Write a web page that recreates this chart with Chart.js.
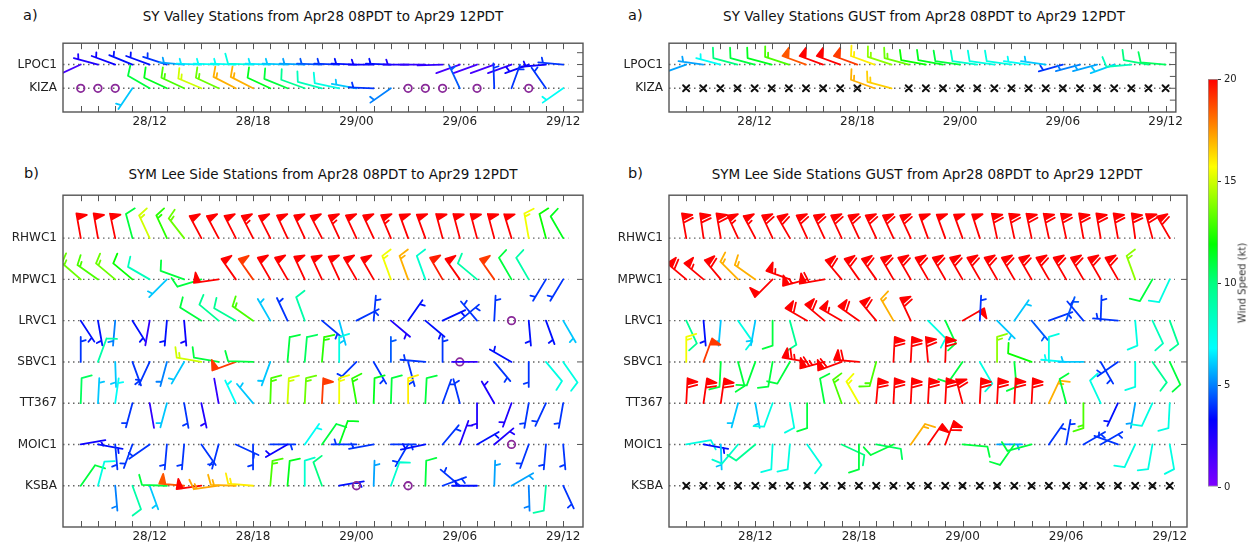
<!DOCTYPE html>
<html>
<head>
<meta charset="utf-8">
<script src="https://cdn.jsdelivr.net/npm/chart.js@4.4.1/dist/chart.umd.min.js"></script>
<style>
  body { margin: 0; background: #fff; width: 1255px; height: 544px; overflow: hidden; position: relative;
         font-family: 'DejaVu Sans', sans-serif; color: #111; }
  .box { position: absolute; }
  .ttl { position: absolute; font-size: 13.5px; white-space: nowrap; transform: translateX(-50%); }
  .tag { position: absolute; font-size: 14.5px; }
  .cbt { position: absolute; font-size: 10px; color: #333; white-space: nowrap; transform: translate(-50%, -50%) rotate(-90deg); }
</style>
</head>
<body>
<div class="tag" style="left:23px;top:7px">a)</div>
<div class="ttl" style="left:323px;top:8px">SY Valley Stations from Apr28 08PDT to Apr29 12PDT</div>
<div class="tag" style="left:628px;top:7px">a)</div>
<div class="ttl" style="left:924px;top:8px">SY Valley Stations GUST from Apr28 08PDT to Apr29 12PDT</div>
<div class="tag" style="left:24px;top:165px">b)</div>
<div class="ttl" style="left:323px;top:166px">SYM Lee Side Stations from Apr28 08PDT to Apr29 12PDT</div>
<div class="tag" style="left:628px;top:165px">b)</div>
<div class="ttl" style="left:927px;top:166px">SYM Lee Side Stations GUST from Apr28 08PDT to Apr29 12PDT</div>

<div class="box" style="left:0;top:30px;width:590px;height:102px"><canvas id="c-valley"></canvas></div>
<div class="box" style="left:605.5px;top:30px;width:580px;height:102px"><canvas id="c-valley-gust"></canvas></div>
<div class="box" style="left:0;top:182px;width:590px;height:365px"><canvas id="c-lee"></canvas></div>
<div class="box" style="left:605.5px;top:182px;width:587px;height:365px"><canvas id="c-lee-gust"></canvas></div>
<div class="box" style="left:1190px;top:70px;width:65px;height:430px"><canvas id="c-bar"></canvas></div>
<div class="cbt" style="left:1242px;top:283px">Wind Speed (kt)</div>

<script>
'use strict';

// ── Tiempo: horas desde Apr28 08PDT ───────────────────────────────────
const hours = [0, 1, 2, 3, 4, 5, 6, 7, 8, 9, 10, 11, 12, 13, 14, 15, 16, 17, 18, 19, 20, 21, 22, 23, 24, 25, 26, 27, 28];
const tickHours  = [4, 10, 16, 22, 28];
const tickLabels = ['28/12', '28/18', '29/00', '29/06', '29/12'];

const valleyStations = ['LPOC1', 'KIZA'];
const leeStations    = ['RHWC1', 'MPWC1', 'LRVC1', 'SBVC1', 'TT367', 'MOIC1', 'KSBA'];

// ── Viento medio (kt, direccion de procedencia en grados) ─────────────
const lpoc1Spd = [1.5, 2.5, 3, 3.5, 3.5, 4, 5.5, 6.5, 7, 7, 7.5, 6.5, 6, 5.5, 4.5, 4, 3.5, 3, 3.5, 2.5, 2, 2, 1.5, 1.5, 1.5, 2, 3, 3, 4];
const lpoc1Dir = [245, 285, 290, 292, 290, 288, 275, 272, 272, 272, 272, 272, 272, 272, 272, 272, 272, 270, 272, 270, 270, 268, 250, 250, 250, 250, 250, 265, 275];
const kizaSpd  = [0, 0, 0, 6, 11, 11.5, 13, 15, 13.5, 17, 17, 11.5, 11, 9.5, 8.5, 7.5, 6, 4, 5, 0, 0, 0, 4.5, 0, 4, 4, 0, 4, 7];
const kizaDir  = [0, 0, 0, 214, 300, 295, 295, 293, 295, 297, 297, 295, 292, 290, 285, 282, 280, 272, 235, 0, 0, 0, 335, 0, 358, 20, 0, 325, 235];

const rhwc1Spd = [22, 22, 22, 11, 15, 12.5, 13.5, 22, 22, 22, 23, 22, 22, 22, 22, 23, 22, 22, 23, 22, 22, 22, 22, 22, 22, 22, 15.5, 12, 11.5];
const rhwc1Dir = [350, 350, 348, 345, 335, 335, 322, 332, 332, 333, 333, 333, 335, 335, 333, 335, 335, 335, 337, 340, 340, 345, 345, 345, 345, 343, 350, 345, 330];
const mpwc1Spd = [13.5, 13, 13.5, 12, 8.5, 6, 11, 11, 21, 22, 19, 22, 22, 22, 22, 22, 22, 22, 15.5, 17, 8, 19.5, 22, 9, 19, 11, 9, 4, 4];
const mpwc1Dir = [311, 305, 310, 310, 300, 225, 290, 253, 262, 325, 325, 330, 330, 335, 335, 335, 330, 330, 340, 340, 340, 330, 325, 310, 325, 330, 330, 211, 211];
const lrvc1Spd = [3.5, 3.5, 5, 3.5, 2, 3.5, 3, 11, 9.5, 9.5, 13, 6, 4, 9, 4, 6, 4, 4, 2.5, 3.5, 3.5, 3.5, 4, 4, 4, 0, 3.5, 3.5, 6];
const lrvc1Dir = [147, 170, 185, 148, 190, 185, 175, 302, 310, 300, 305, 330, 335, 340, 130, 165, 63, 5, 130, 35, 130, 65, 50, 320, 3, 0, 175, 160, 150];
const sbvc1Spd = [4, 9, 6, 4, 4, 5, 6, 15, 11, 19, 11, 6, 11, 10.5, 12.5, 7.5, 4, 4, 4.5, 4, 4, 4, 0, 2, 4, 3.5, 4, 7.5, 7.5];
const sbvc1Dir = [0, 20, 178, 160, 205, 195, 210, 280, 280, 250, 272, 200, 5, 5, 5, 0, 225, 150, 0, 165, 275, 0, 0, 270, 140, 300, 180, 140, 145];
const tt367Spd = [10.5, 6, 7, 4, 2, 6, 4, 2.5, 2, 7, 6, 13, 15, 13.5, 19, 15.5, 12.5, 11.5, 11, 16, 11, 4, 4, 2.5, 2.5, 2.5, 4, 4, 4];
const tt367Dir = [2, 3, 8, 195, 170, 195, 170, 168, 350, 335, 320, 2, 3, 3, 3, 0, 350, 2, 2, 0, 3, 20, 345, 180, 330, 200, 190, 205, 190];
const moic1Spd = [3, 3.5, 4, 4, 4, 4, 4, 4, 4, 4, 4, 4, 3, 7, 11, 11.5, 4, 4, 4, 4, 3.5, 4, 2.5, 3.5, 2.5, 0, 4, 4, 4];
const moic1Dir = [80, 100, 175, 200, 235, 185, 185, 145, 195, 115, 180, 90, 240, 35, 35, 20, 270, 260, 90, 210, 258, 40, 20, 60, 50, 0, 200, 185, 175];
const ksbaSpd  = [11, 7.5, 5, 9, 6, 11, 18.5, 21, 17.2, 17, 16, 13, 11.5, 8, 10, 3.5, 0, 5.5, 8, 0, 11, 4, 4, 3.5, 5.5, 5.5, 5, 9, 4];
const ksbaDir  = [35, 15, 175, 160, 160, 272, 275, 262, 262, 272, 275, 5, 5, 0, 340, 80, 0, 2, 20, 0, 2, 70, 310, 270, 2, 60, 178, 185, 155];

// ── Rachas ('x' = sin dato de racha) ──────────────────────────────────
const X = 'x';
const lpoc1GustSpd = [5.5, 5.5, 7, 10, 11, 11.5, 13, 18.5, 20, 20.5, 19, 16, 14, 13.5, 12, 11.5, 11, 8, 7.5, 7.5, 7, 6, 4, 5, 5.5, 6, 8.5, 10, 10.5];
const lpoc1GustDir = [250, 278, 285, 285, 285, 285, 288, 290, 290, 290, 290, 290, 288, 285, 280, 280, 278, 278, 278, 278, 278, 278, 254, 255, 255, 250, 265, 280, 275];
const kizaGustSpd  = [X, X, X, X, X, X, X, X, X, X, X, 17, 16.5, X, X, X, X, X, X, X, X, X, X, X, X, X, X, X, X];
const kizaGustDir  = [0, 0, 0, 0, 0, 0, 0, 0, 0, 0, 0, 290, 285, 0, 0, 0, 0, 0, 0, 0, 0, 0, 0, 0, 0, 0, 0, 0, 0];

const rhwc1GustSpd = [30, 30, 30, 27, 27, 30, 29, 30, 30, 30, 30, 30, 30, 30, 21, 21, 21, 21, 30, 30, 30, 30, 30, 30, 30, 29, 30, 29, 29];
const rhwc1GustDir = [350, 352, 350, 335, 332, 335, 330, 335, 335, 335, 335, 335, 335, 335, 340, 340, 340, 342, 348, 348, 348, 348, 348, 350, 350, 350, 352, 345, 330];
const mpwc1GustSpd = [27.5, 26, 27.5, 17, 17, 21, 26, 26, 27.5, 29, 29, 29, 29, 29, 29, 29, 29, 29, 29, 29, 29, 29, 29, 29, 29, 28, 14, 11, 7.5];
const mpwc1GustDir = [310, 310, 320, 315, 305, 225, 290, 255, 260, 320, 325, 325, 330, 330, 330, 330, 330, 330, 330, 330, 330, 330, 330, 330, 330, 330, 340, 210, 205];
const lrvc1GustSpd = [9.5, 3.5, 6, 7.5, 6, 11, 9.5, 28, 28, 26, 28, 28, 17, 28, 7.5, 11, 21, 4, 6, 6, 4.5, 4, 4.5, 4, 4, 4, 7.5, 8.5, 9.5];
const lrvc1GustDir = [155, 175, 185, 145, 190, 180, 165, 300, 310, 300, 305, 320, 330, 335, 135, 155, 60, 3, 135, 35, 140, 70, 20, 320, 2, 275, 175, 155, 160];
const sbvc1GustSpd = [15.5, 19, 11, 11, 11, 11, 11, 33, 33, 30, 30, 13, 28, 28, 28, 30, 11, 7.5, 14, 11, 12, 7.5, 7, 6, 4, 4, 7.5, 9.5, 11];
const sbvc1GustDir = [0, 20, 183, 165, 200, 190, 210, 280, 255, 250, 275, 195, 3, 3, 355, 2, 215, 150, 0, 175, 290, 0, 275, 270, 150, 235, 180, 145, 155];
const tt367GustSpd = [28, 28, 28, 6, 6, 7.5, 7.5, 11, 11, 13, 15.5, 28, 28, 28, 28, 28, 28, 28, 28, 28, 28, 17, 11, 13, 7.5, 3.5, 5.5, 7.5, 7.5];
const tt367GustDir = [3, 8, 8, 195, 170, 200, 170, 180, 350, 340, 330, 5, 3, 3, 3, 3, 345, 3, 3, 3, 3, 25, 345, 180, 335, 205, 190, 205, 183];
const moic1GustSpd = [7.5, 3.5, 6, 8, 9.5, 7.5, 7.5, 7.5, null, 10, 11, 10.5, 11, 17, 21, 30, 11, null, 5.5, 11, 11, 4, 4, 4, 4, 4, 7.5, 7.5, 7.5];
const moic1GustDir = [80, 100, 178, 220, 230, 183, 185, 145, null, 115, 180, 100, 245, 35, 35, 20, 95, null, 90, 215, 255, 35, 10, 60, 60, 290, 205, 190, 170];
const ksbaGustSpd  = [X, X, X, X, X, X, X, X, X, X, X, X, X, X, X, X, X, X, X, X, X, X, X, X, X, X, X, X, X];
const ksbaGustDir  = [0, 0, 0, 0, 0, 0, 0, 0, 0, 0, 0, 0, 0, 0, 0, 0, 0, 0, 0, 0, 0, 0, 0, 0, 0, 0, 0, 0, 0];

// ── Escala de color (kt) ──────────────────────────────────────────────
const cmapStops  = [0, 3.3, 5, 6.8, 10, 11.9, 15.7, 17.8, 20];
const cmapColors = [[128, 0, 255], [0, 0, 255], [0, 128, 255], [0, 255, 255], [0, 255, 128], [0, 255, 0], [255, 255, 0], [255, 128, 0], [255, 0, 0]];
const colorbarTicks = [0, 5, 10, 15, 20];

function speedColor(v) {
  const s = Math.max(0, Math.min(20, v));
  for (let i = 1; i < cmapStops.length; i++) {
    if (s <= cmapStops[i]) {
      const f = (s - cmapStops[i - 1]) / (cmapStops[i] - cmapStops[i - 1]);
      const a = cmapColors[i - 1], b = cmapColors[i];
      return `rgb(${a.map((c, k) => Math.round(c + (b[k] - c) * f)).join(',')})`;
    }
  }
  return 'rgb(255,0,0)';
}

Chart.defaults.font.family = "'DejaVu Sans', sans-serif";
Chart.defaults.font.size = 12;
Chart.defaults.color = '#222';

// ── Barbas (incrementos: media 5, completa 10, bandera 20) ────────────
const BARB_LEN = 25;

function drawBarb(ctx, x, y, spd, dir) {
  const L = BARB_LEN;
  if (spd === 0) {
    ctx.strokeStyle = '#8a2a9a';
    ctx.beginPath(); ctx.arc(x, y, 0.15 * L, 0, Math.PI * 2); ctx.stroke();
    return;
  }
  const r = dir * Math.PI / 180;
  const sx = Math.sin(r), sy = -Math.cos(r);
  const nx = Math.cos(r), ny = Math.sin(r);
  const fh = 0.4 * L, fw = 0.25 * L, sp = 0.125 * L;
  const col = speedColor(spd);
  ctx.strokeStyle = col;
  ctx.fillStyle = col;
  let mag = 5 * Math.round(spd / 5);
  const nflag = Math.floor(mag / 20); mag -= nflag * 20;
  const nbarb = Math.floor(mag / 10); mag -= nbarb * 10;
  const half = mag >= 5;
  const at = (t, h) => [x + sx * t + nx * h, y + sy * t + ny * h];

  ctx.beginPath();
  ctx.moveTo(x, y);
  ctx.lineTo(...at(L, 0));
  let off = L;
  for (let i = 0; i < nflag; i++) {
    if (off !== L) off += sp / 2;
    ctx.moveTo(...at(off, 0));
    ctx.lineTo(...at(off - fw / 2, fh));
    ctx.lineTo(...at(off - fw, 0));
    ctx.closePath();
    off -= fw + sp;
  }
  ctx.fill();
  for (let i = 0; i < nbarb; i++) {
    ctx.moveTo(...at(off, 0));
    ctx.lineTo(...at(off + fw / 2, fh));
    off -= sp;
  }
  if (half) {
    if (off === L) off -= 1.5 * sp;
    ctx.moveTo(...at(off, 0));
    ctx.lineTo(...at(off + fw / 4, fh / 2));
  }
  ctx.stroke();
}

function drawCross(ctx, x, y) {
  const d = 3;
  ctx.strokeStyle = '#111';
  ctx.beginPath();
  ctx.moveTo(x - d, y - d); ctx.lineTo(x + d, y + d);
  ctx.moveTo(x - d, y + d); ctx.lineTo(x + d, y - d);
  ctx.stroke();
}

const barbPlugin = {
  id: 'barbs',
  afterDatasetsDraw(chart) {
    const { ctx, chartArea: a } = chart;
    ctx.save();
    ctx.beginPath(); ctx.rect(a.left, a.top, a.right - a.left, a.bottom - a.top); ctx.clip();
    ctx.lineWidth = 1.8;
    ctx.lineJoin = 'round';
    ctx.lineCap = 'round';
    chart.data.datasets.forEach((ds, di) => {
      if (!ds.barbs) return;
      chart.getDatasetMeta(di).data.forEach((pt, i) => {
        const v = ds.data[i];
        if (v.s === null) return;
        if (v.s === X) { ctx.lineWidth = 2; drawCross(ctx, pt.x, pt.y); ctx.lineWidth = 1.8; }
        else drawBarb(ctx, pt.x, pt.y, v.s, v.d);
      });
    });
    ctx.restore();
  },
};

// Marco con marcas hacia adentro
const framePlugin = {
  id: 'frame',
  afterDraw(chart, args, o) {
    const { ctx, chartArea: a, scales: { x, y } } = chart;
    ctx.save();
    ctx.strokeStyle = '#555';
    ctx.lineWidth = 1.4;
    ctx.strokeRect(a.left, a.top, a.right - a.left, a.bottom - a.top);
    ctx.beginPath();
    hours.forEach(h => {
      const px = Math.round(x.getPixelForValue(h)) + 0.5;
      ctx.moveTo(px, a.bottom); ctx.lineTo(px, a.bottom - 6);
      ctx.moveTo(px, a.top);    ctx.lineTo(px, a.top + 6);
    });
    (o.rightTicks || []).forEach(v => {
      const py = y.getPixelForValue(v);
      ctx.moveTo(a.right, py); ctx.lineTo(a.right - 6, py);
    });
    ctx.lineWidth = 1;
    ctx.stroke();
    ctx.restore();
  },
};

function barbSet(row, spd, dir) {
  return {
    type: 'scatter', barbs: true, pointRadius: 0,
    data: hours.map((h, i) => ({ x: h, y: row, s: spd[i], d: dir[i] })),
  };
}

function rowLine(row, xmin) {
  return {
    type: 'line', pointRadius: 0, fill: false,
    borderColor: '#666', borderWidth: 1.4, borderDash: [1.5, 3.5],
    data: [{ x: xmin, y: row }, { x: 28.3, y: row }],
  };
}

function makePanel(id, names, series, cfg) {
  const n = names.length;
  const rows = names.map((_, i) => n - 1 - i);
  const datasets = [
    ...rows.map(r => rowLine(r, cfg.xmin)),
    ...series.map((s, i) => barbSet(rows[i], s[0], s[1])),
  ];
  return new Chart(document.getElementById(id), {
    type: 'scatter',
    data: { datasets },
    options: {
      responsive: true,
      maintainAspectRatio: false,
      animation: false,
      events: [],
      layout: { padding: { top: 9.5, right: cfg.padRight, left: 0, bottom: 0 } },
      plugins: {
        legend: { display: false },
        tooltip: { enabled: false },
        frame: { rightTicks: cfg.rightTicks },
      },
      scales: {
        x: {
          type: 'linear', min: cfg.xmin, max: cfg.xmax,
          grid: { display: false, drawTicks: false },
          border: { display: false },
          afterBuildTicks: s => { s.ticks = tickHours.map(v => ({ value: v })); },
          afterFit: s => { s.height = 20; },
          ticks: {
            padding: 3, maxRotation: 0, autoSkip: false,
            callback: v => tickLabels[tickHours.indexOf(v)],
          },
        },
        y: {
          type: 'linear', min: -1, max: cfg.ymax,
          grid: { display: false, drawTicks: false },
          border: { display: false },
          afterBuildTicks: s => { s.ticks = rows.map(v => ({ value: v })); },
          afterFit: s => { s.width = 63; },
          ticks: {
            padding: 6, autoSkip: false,
            callback: v => names[n - 1 - v],
          },
        },
      },
    },
    plugins: [barbPlugin, framePlugin],
  });
}

makePanel('c-valley', valleyStations,
  [[lpoc1Spd, lpoc1Dir], [kizaSpd, kizaDir]],
  { xmin: -1.03, xmax: 29.15, ymax: 1.9, padRight: 7, rightTicks: [-0.5, 0, 0.5, 1, 1.5] });

makePanel('c-valley-gust', valleyStations,
  [[lpoc1GustSpd, lpoc1GustDir], [kizaGustSpd, kizaGustDir]],
  { xmin: -1.0, xmax: 28.6, ymax: 1.9, padRight: 6, rightTicks: [-0.5, 0, 0.5, 1, 1.5] });

makePanel('c-lee', leeStations,
  [[rhwc1Spd, rhwc1Dir], [mpwc1Spd, mpwc1Dir], [lrvc1Spd, lrvc1Dir], [sbvc1Spd, sbvc1Dir],
   [tt367Spd, tt367Dir], [moic1Spd, moic1Dir], [ksbaSpd, ksbaDir]],
  { xmin: -1.03, xmax: 29.15, ymax: 7.04, padRight: 7, rightTicks: [1, 3, 5] });

makePanel('c-lee-gust', leeStations,
  [[rhwc1GustSpd, rhwc1GustDir], [mpwc1GustSpd, mpwc1GustDir], [lrvc1GustSpd, lrvc1GustDir],
   [sbvc1GustSpd, sbvc1GustDir], [tt367GustSpd, tt367GustDir], [moic1GustSpd, moic1GustDir],
   [ksbaGustSpd, ksbaGustDir]],
  { xmin: -1.0, xmax: 29.0, ymax: 7.04, padRight: 6, rightTicks: [1, 3, 5] });

// ── Barra de color ────────────────────────────────────────────────────
new Chart(document.getElementById('c-bar'), {
  type: 'bar',
  data: {
    labels: [''],
    datasets: [{
      data: [20],
      barPercentage: 1,
      categoryPercentage: 1,
      borderColor: '#999',
      borderWidth: 1,
      borderSkipped: false,
      backgroundColor: c => {
        const a = c.chart.chartArea;
        if (!a) return '#f00';
        const g = c.chart.ctx.createLinearGradient(0, a.bottom, 0, a.top);
        cmapStops.forEach((s, i) => g.addColorStop(s / 20, `rgb(${cmapColors[i].join(',')})`));
        return g;
      },
    }],
  },
  options: {
    responsive: true,
    maintainAspectRatio: false,
    animation: false,
    events: [],
    layout: { padding: { top: 8, left: 18, bottom: 13, right: 0 } },
    plugins: { legend: { display: false }, tooltip: { enabled: false } },
    scales: {
      x: { display: false },
      y: {
        position: 'right', min: 0, max: 20,
        afterBuildTicks: s => { s.ticks = colorbarTicks.map(v => ({ value: v })); },
        afterFit: s => { s.width = 37; },
        grid: { drawOnChartArea: false, tickLength: 3, color: '#333' },
        border: { display: false },
        ticks: { font: { size: 10 }, color: '#222', padding: 3 },
      },
    },
  },
});
</script>
</body>
</html>
